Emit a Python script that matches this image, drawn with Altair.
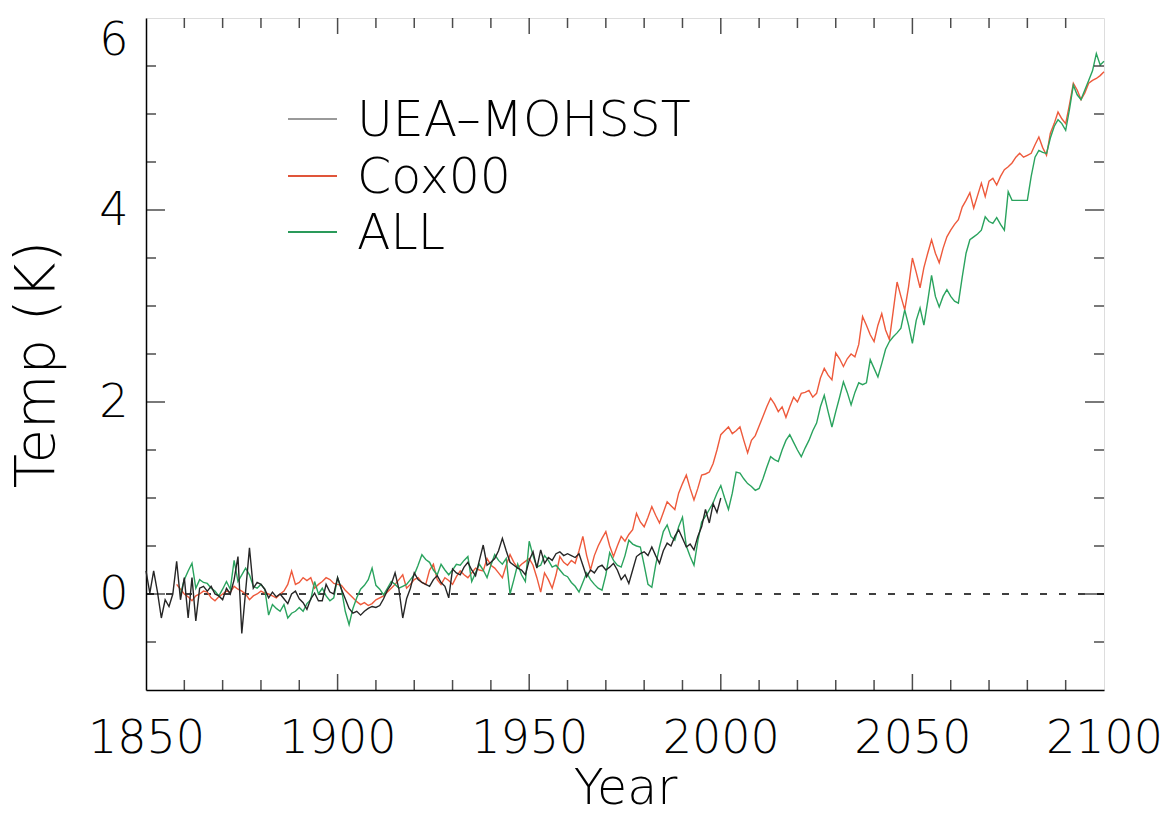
import altair as alt
import pandas as pd

# ---------------- data ----------------
uea_years = list(range(1850, 2001))
uea_vals = [0.24, 0.01, 0.24, 0.02, -0.25, -0.06, -0.13, 0.0, 0.34, -0.06,
            0.17, -0.25, 0.17, -0.28, 0.06, 0.08, 0.03, 0.08, 0.0, -0.02,
            -0.06, 0.06, 0.0, 0.15, 0.39, -0.41, 0.03, 0.48, 0.06, 0.12,
            0.1, 0.05, -0.04, 0.02, -0.03, 0.0, -0.05, -0.1, 0.0, 0.03,
            -0.05, -0.09, -0.16, -0.05, 0.01, -0.07, -0.07, 0.1, 0.02, 0.0,
            0.17, 0.05, -0.05, -0.15, -0.2, -0.18, -0.22, -0.18, -0.15, -0.13,
            -0.14, -0.12, -0.05, 0.04, 0.1, 0.22, 0.05, -0.25, -0.05, 0.06,
            0.22, 0.15, 0.12, 0.1, 0.08, 0.15, 0.19, 0.12, 0.08, -0.04,
            0.26, 0.22, 0.2, 0.28, 0.33, 0.25, 0.19, 0.35, 0.51, 0.3,
            0.33, 0.37, 0.45, 0.58, 0.45, 0.33, 0.3, 0.27, 0.25, 0.2,
            0.35, 0.44, 0.27, 0.46, 0.32, 0.38, 0.35, 0.42, 0.44, 0.4,
            0.42, 0.4, 0.38, 0.42, 0.3, 0.18, 0.25, 0.22, 0.28, 0.3,
            0.25, 0.28, 0.32, 0.25, 0.15, 0.2, 0.11, 0.25, 0.39, 0.42,
            0.44, 0.4, 0.49, 0.4, 0.32, 0.45, 0.53, 0.5, 0.6, 0.67,
            0.58, 0.49, 0.52, 0.46, 0.6, 0.7, 0.88, 0.74, 0.94, 0.85,
            1.0]

cox_years = list(range(1858, 2101))
cox_vals = [0.1, 0.05,
            0.0, -0.03, -0.07, -0.02, 0.0, 0.03, 0.02, -0.04, -0.07, -0.03,
            0.0, 0.03, 0.02, 0.08, 0.05, 0.03, 0.0, -0.06, -0.02, 0.0,
            0.03, 0.01, 0.0, -0.02, -0.04, 0.0, 0.03, 0.1, 0.24, 0.1,
            0.12, 0.17, 0.14, 0.17, 0.06, 0.1, 0.13, 0.17, 0.15, 0.11,
            0.1, 0.09, 0.04, 0.0, -0.04, -0.08, -0.11, -0.09, -0.12, -0.1,
            -0.06, -0.04, -0.02, 0.02, 0.06, 0.1, 0.15, 0.2, 0.06, 0.1,
            0.15, 0.17, 0.12, 0.1, 0.25, 0.31, 0.15, 0.1, 0.17, 0.14,
            0.1, 0.18, 0.24, 0.2, 0.17, 0.22, 0.27, 0.25, 0.24, 0.37,
            0.3, 0.27, 0.22, 0.17, 0.3, 0.41, 0.33, 0.27, 0.31, 0.34,
            0.37, 0.3, 0.17, 0.02, 0.22, 0.15, 0.06, 0.2, 0.39, 0.33,
            0.3, 0.35, 0.32, 0.45, 0.6, 0.4, 0.25, 0.4, 0.5, 0.58,
            0.65, 0.5, 0.39, 0.5, 0.6, 0.55, 0.62, 0.67, 0.84, 0.75,
            0.7, 0.8, 0.91, 0.82, 0.74, 0.85, 0.96, 0.92, 0.88, 1.05,
            1.15, 1.24, 1.1, 0.98, 1.1, 1.24, 1.25, 1.27, 1.36, 1.5,
            1.66, 1.7, 1.74, 1.67, 1.7, 1.74, 1.6, 1.47, 1.6, 1.65,
            1.75, 1.85, 1.95, 2.04, 1.98, 1.9, 1.95, 1.84, 1.95, 2.05,
            2.0, 2.09, 2.1, 2.12, 2.05, 2.09, 2.25, 2.35, 2.28, 2.23,
            2.51, 2.45, 2.37, 2.45, 2.5, 2.47, 2.6, 2.89, 2.8, 2.7,
            2.63, 2.8, 2.92, 2.75, 2.65, 2.95, 3.25, 3.1, 2.96, 3.2,
            3.5, 3.35, 3.19, 3.4, 3.55, 3.69, 3.55, 3.45, 3.6, 3.72,
            3.79, 3.85, 3.9, 4.03, 4.1, 4.18, 4.02, 4.15, 4.28, 4.14,
            4.3, 4.33, 4.26, 4.35, 4.42, 4.45, 4.49, 4.55, 4.59, 4.55,
            4.57, 4.59, 4.68, 4.76, 4.65, 4.57, 4.8, 4.9, 5.02, 4.95,
            4.9, 5.1, 5.32, 5.25, 5.15, 5.22, 5.32, 5.35, 5.37, 5.4,
            5.44]

all_years = list(range(1859, 2101))
all_vals = [0.0,
            0.15, 0.24, 0.32, 0.06, 0.15, 0.12, 0.11, 0.06, 0.03, -0.02,
            0.05, 0.13, 0.05, 0.35, 0.13, 0.2, 0.27, 0.2, 0.08, 0.06,
            0.1, 0.05, -0.22, -0.11, -0.15, -0.18, -0.11, -0.25, -0.2, -0.18,
            -0.14, -0.18, -0.1, -0.06, 0.13, 0.0, 0.06, -0.02, -0.07, -0.04,
            0.17, 0.05, -0.18, -0.32, -0.15, -0.04, 0.05, 0.09, 0.15, 0.27,
            0.09, 0.05, -0.01, 0.06, 0.13, 0.1, 0.06, 0.08, 0.1, 0.15,
            0.2, 0.3, 0.41, 0.36, 0.33, 0.25, 0.2, 0.31, 0.25, 0.2,
            0.25, 0.31, 0.3, 0.35, 0.39, 0.13, 0.22, 0.31, 0.25, 0.17,
            0.3, 0.41, 0.35, 0.31, 0.37, 0.0, 0.15, 0.31, 0.2, 0.13,
            0.55, 0.4, 0.28, 0.3, 0.4, 0.35, 0.28, 0.3, 0.25, 0.2,
            0.18, 0.12, 0.08, 0.02, 0.12, 0.22, 0.15, 0.1, 0.06, 0.04,
            0.2, 0.43, 0.35, 0.3, 0.28, 0.4, 0.56, 0.52, 0.5, 0.49,
            0.3, 0.1, 0.07, 0.3, 0.49, 0.65, 0.72, 0.6, 0.56, 0.7,
            0.8, 0.5, 0.39, 0.3, 0.55, 0.75, 0.81, 0.88, 0.95, 1.05,
            1.13, 1.0, 0.88, 1.05, 1.27, 1.26, 1.2, 1.15, 1.12, 1.08,
            1.1, 1.2, 1.32, 1.43, 1.4, 1.38, 1.5, 1.6, 1.66, 1.58,
            1.5, 1.43, 1.52, 1.6, 1.7, 1.78, 1.95, 2.07, 1.9, 1.74,
            1.9, 2.05, 2.21, 2.1, 1.97, 2.1, 2.2, 2.18, 2.2, 2.44,
            2.35, 2.26, 2.4, 2.55, 2.63, 2.68, 2.72, 2.77, 2.96, 2.8,
            2.61, 2.85, 2.98, 2.8, 3.05, 3.32, 3.1, 2.99, 3.1, 3.17,
            3.1, 3.05, 3.03, 3.3, 3.55, 3.69, 3.72, 3.75, 3.79, 3.93,
            3.88, 3.86, 3.92, 3.85, 3.79, 4.19, 4.1, 4.1, 4.1, 4.1,
            4.1, 4.35, 4.55, 4.62, 4.6, 4.59, 4.75, 4.87, 4.94, 4.9,
            4.83, 5.05, 5.3, 5.2, 5.15, 5.25, 5.35, 5.45, 5.63, 5.51,
            5.55]

series_names = ["UEA\u2013MOHSST", "Cox00", "ALL"]
line_colors = ["#262626", "#ee5a3c", "#2aa35e"]
legend_colors = ["#9a9a9a", "#e0553a", "#2a9a5a"]

x_labels = [1850, 1900, 1950, 2000, 2050, 2100]
y_labels = [0, 2, 4, 6]
x_minor = [1860, 1870, 1880, 1890, 1910, 1920, 1930, 1940, 1960, 1970, 1980,
           1990, 2010, 2020, 2030, 2040, 2060, 2070, 2080, 2090]
x_major = [1900, 1950, 2000, 2050]
y_minor = [-0.5, 0.5, 1.0, 1.5, 2.5, 3.0, 3.5, 4.5, 5.0, 5.5]
y_major = [0, 2, 4]

# ---------------- build tables ----------------
df = pd.concat([
    pd.DataFrame({"Year": cox_years, "Temp": cox_vals, "series": "Cox00", "o": 0}),
    pd.DataFrame({"Year": all_years, "Temp": all_vals, "series": "ALL", "o": 1}),
    pd.DataFrame({"Year": uea_years, "Temp": uea_vals, "series": series_names[0], "o": 2}),
])

W, H = 958, 672
FONT = "DejaVu Sans"
FS = 46
xs = alt.Scale(domain=[1850, 2100], nice=False, zero=False)
ys = alt.Scale(domain=[-1, 6], nice=False, zero=False)

base = alt.Chart(df)

lines = base.mark_line(strokeWidth=1.4).encode(
    x=alt.X("Year:Q", scale=xs,
            axis=alt.Axis(values=x_labels, format="d", ticks=False, grid=False,
                          labelFontSize=FS, labelFont=FONT, labelColor="black",
                          labelFontWeight=200, labelPadding=26, labelFlush=False,
                          labelOverlap=False,
                          title="Year", titleFontSize=49, titleFont=FONT,
                          titleFontWeight=200, titleColor="black", titlePadding=3,
                          domainColor="black", domainWidth=1.5)),
    y=alt.Y("Temp:Q", scale=ys,
            axis=alt.Axis(values=y_labels, format="d", ticks=False, grid=False,
                          labelFontSize=FS, labelFont=FONT, labelColor="black",
                          labelFontWeight=200, labelPadding=18, labelFlush=True,
                          title="Temp (K)", titleFontSize=56, titleFont=FONT,
                          titleFontWeight=200, titleColor="black",
                          titleX=-110, titleY=346, titleAngle=270,
                          titleAlign="center", titleBaseline="middle",
                          domainColor="black", domainWidth=1.5)),
    color=alt.Color("series:N", scale=alt.Scale(domain=series_names, range=line_colors),
                    legend=None),
    detail="series:N",
    order="o:Q",
)

zero_line = alt.Chart(pd.DataFrame({"z": [0]})).mark_rule(
    color="black", strokeWidth=1.4, strokeDash=[7, 12]).encode(y=alt.Y("z:Q", scale=ys))

def vticks(vals, size, at, sign):
    return alt.Chart(pd.DataFrame({"t": vals})).mark_tick(
        orient="vertical", size=size, thickness=1.5, color="black",
        yOffset=sign * size / 2).encode(
        x=alt.X("t:Q", scale=xs), y=alt.YDatum(at))

def hticks(vals, size, at, sign):
    return alt.Chart(pd.DataFrame({"t": vals})).mark_tick(
        orient="horizontal", size=size, thickness=1.5, color="black",
        xOffset=sign * size / 2).encode(
        y=alt.Y("t:Q", scale=ys), x=alt.XDatum(at))

ticks = [
    vticks(x_minor, 10, -1, -1), vticks(x_major, 16, -1, -1),
    vticks(x_minor, 10, 6, 1), vticks(x_major, 16, 6, 1),
    hticks(y_minor, 10, 1850, 1), hticks(y_major, 19, 1850, 1),
    hticks(y_minor, 10, 2100, -1), hticks(y_major, 19, 2100, -1),
]

legend_layers = []
leg_y = [101, 158, 214]
for name, col, yy in zip(series_names, legend_colors, leg_y):
    legend_layers.append(
        alt.Chart(pd.DataFrame({"n": [name]})).mark_rule(color=col, strokeWidth=2).encode(
            x=alt.value(142), x2=alt.value(191), y=alt.value(yy)))
    legend_layers.append(
        alt.Chart(pd.DataFrame({"n": [name]})).mark_text(
            align="left", baseline="middle", font=FONT, fontSize=49, fontWeight=200,
            color="black").encode(text="n:N", x=alt.value(211), y=alt.value(yy + 2)))

chart = alt.layer(zero_line, lines, *ticks, *legend_layers).properties(
    width=W, height=H,
    padding={"left": 146, "top": 18, "right": 63, "bottom": 127},
    autosize=alt.AutoSizeParams(type="none"),
).configure_view(stroke="black", strokeWidth=1.5).configure(background="white")

chart.save("out.html", embed_options={"renderer": "svg", "actions": False})
